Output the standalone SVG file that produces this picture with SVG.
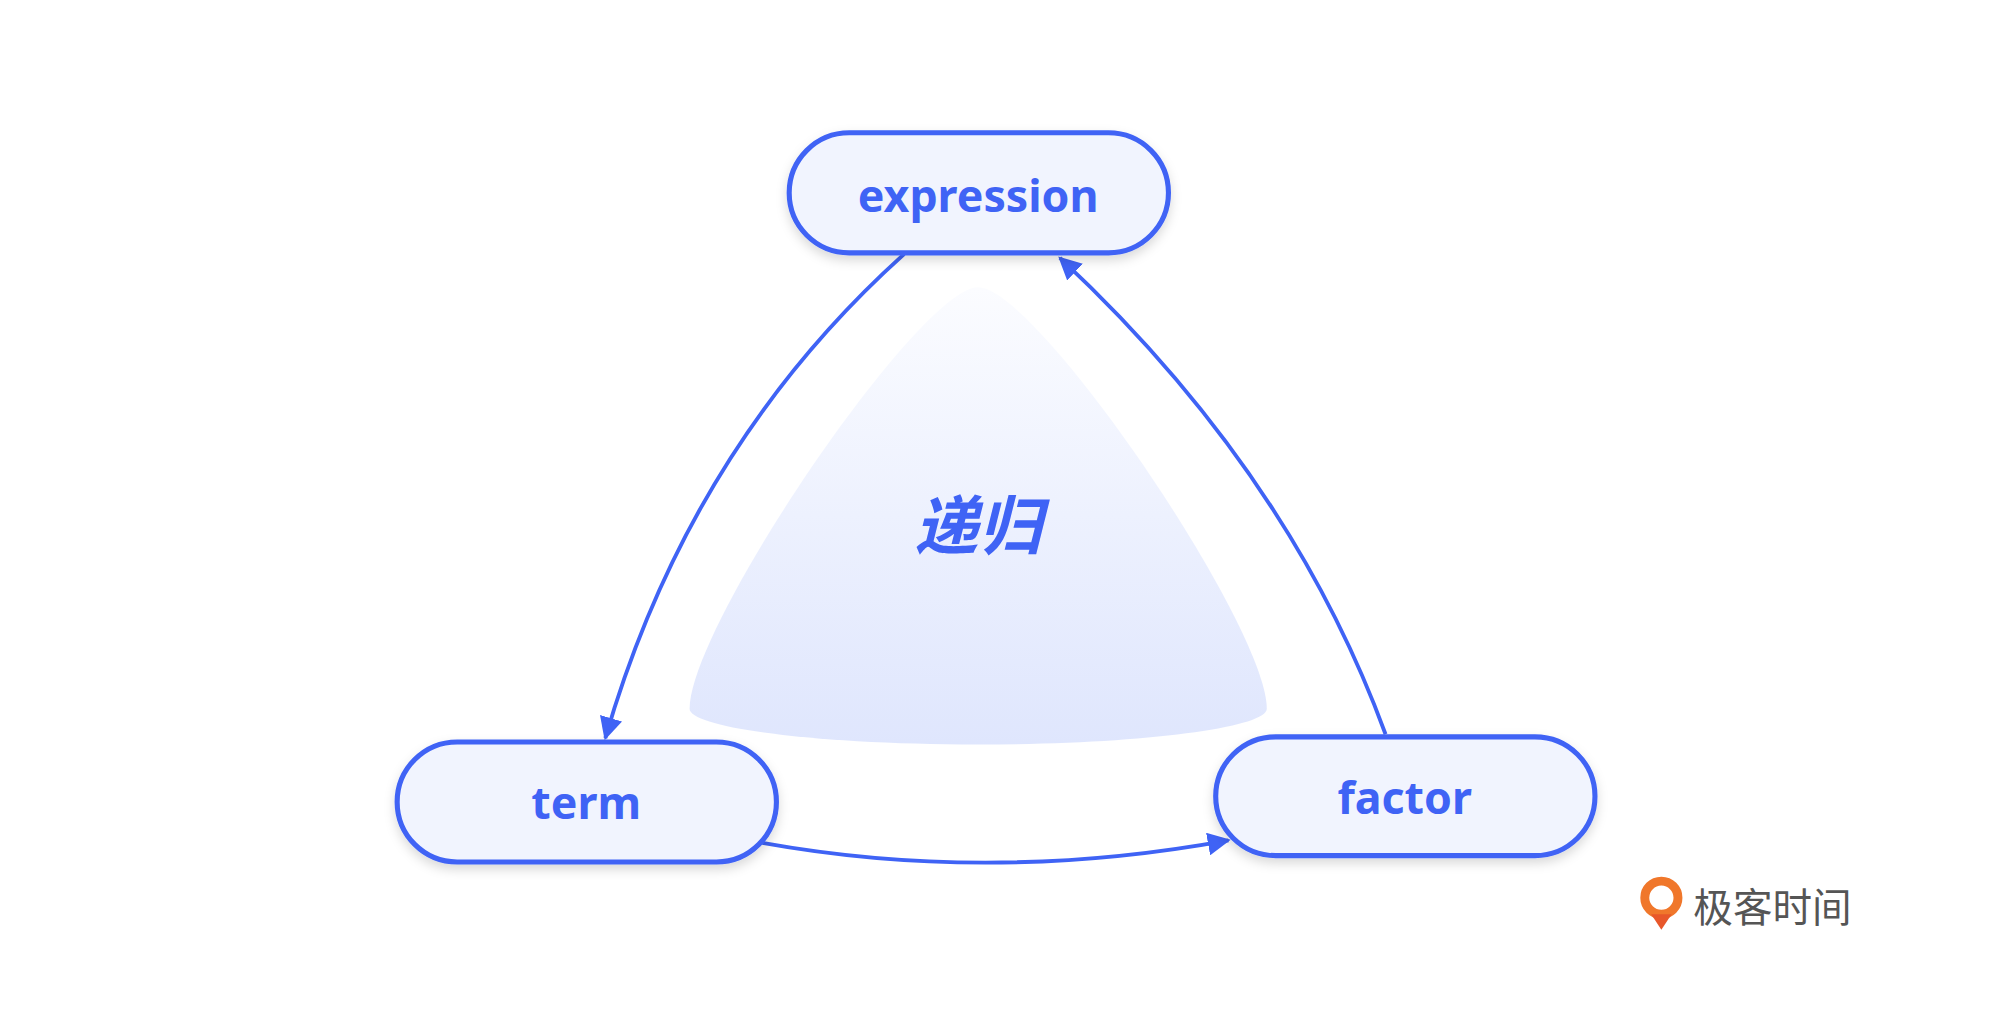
<svg xmlns="http://www.w3.org/2000/svg" width="2002" height="1020" viewBox="0 0 2002 1020">
<style>
.node rect{fill:#f1f4fe;stroke:#3f63f5;stroke-width:4}
.node text{font-family:"Noto Sans","DejaVu Sans",sans-serif;font-weight:bold;font-size:35px;fill:#3f63f5;text-anchor:middle;dominant-baseline:central}
.edge{fill:none;stroke:#3f63f5;stroke-width:3}
</style>
<defs>
<linearGradient id="g" x1="0" y1="0" x2="0" y2="1"><stop offset="0" stop-color="#fbfcff"/><stop offset="1" stop-color="#dfe6fd"/></linearGradient>
<marker id="a" viewBox="0 0 10 10" refX="9" refY="5" markerWidth="6" markerHeight="6" orient="auto"><path d="M0,0L10,5L0,10z" fill="#3f63f5"/></marker>
<filter id="s" x="-20%" y="-30%" width="140%" height="170%"><feDropShadow dx="0" dy="4" stdDeviation="4" flood-color="#000" flood-opacity="0.15"/></filter>
</defs>
<rect width="2002" height="1020" fill="#fff"/>
<g transform="scale(1.277)">
<path id="cone" d="M766,225 C720,225 540,490 540,555 C540,570 640,583 766,583 C892,583 992,570 992,555 C992,490 812,225 766,225Z" fill="url(#g)"/>
<text x="766" y="408" font-family="'Noto Sans CJK SC',sans-serif" font-size="50" font-weight="bold" font-style="italic" fill="#3f63f5" text-anchor="middle" dominant-baseline="central">递归</text>
<g id="connectors">
<path class="edge" d="M708,199 Q540,350 474,578" marker-end="url(#a)"/>
<path class="edge" d="M1085,575 Q1010,370 830,202" marker-end="url(#a)"/>
<path class="edge" d="M597,660 Q775,692 962,658" marker-end="url(#a)"/>
</g>
<g id="expression" class="node"><rect x="618" y="104" width="297" height="94" rx="47" filter="url(#s)"/><text x="766" y="152">expression</text></g>
<g id="term" class="node"><rect x="311" y="581" width="297" height="94" rx="47" filter="url(#s)"/><text x="459" y="628">term</text></g>
<g id="factor" class="node"><rect x="952" y="577" width="297" height="93" rx="47" filter="url(#s)"/><text x="1100" y="624">factor</text></g>
<g id="logo">
<circle cx="1301" cy="703" r="13" fill="none" stroke="#f0772b" stroke-width="7"/>
<path d="M1293,716 L1301,728 L1309,716Z" fill="#e8572a"/>
<text x="1326" y="708" font-family="'Noto Sans CJK SC',sans-serif" font-size="31" fill="#555" dominant-baseline="central">极客时间</text>
</g>
</g>
</svg>
